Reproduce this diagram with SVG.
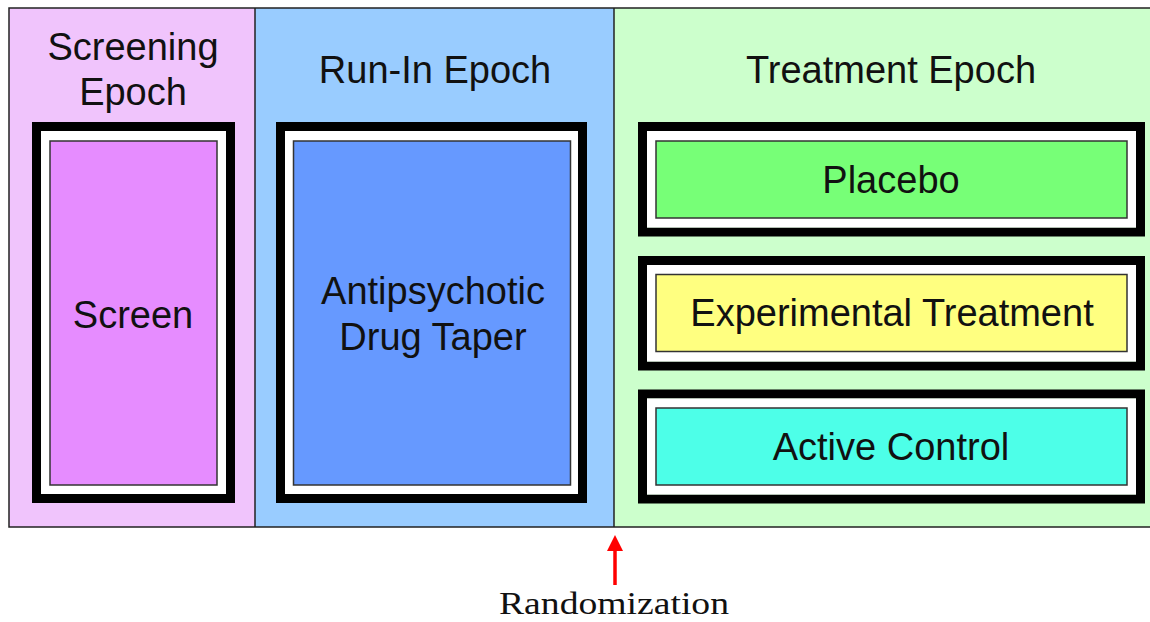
<svg xmlns="http://www.w3.org/2000/svg" width="1150" height="622" viewBox="0 0 1150 622">
  <defs>
    <style>
      .lbl { font-family: "Liberation Sans", Arial, sans-serif; font-size: 38px; fill: #111; text-anchor: middle; }
      .frame { fill: none; stroke: #000; stroke-width: 9; }
      .pad { fill: #fff; }
      .box { stroke: #333; stroke-width: 1.5; }
      .div { stroke: #222; stroke-width: 1.5; }
    </style>
    <marker id="arr" markerWidth="16" markerHeight="16" refX="0" refY="8" orient="auto" markerUnits="userSpaceOnUse">
      <path d="M0,0 L16,8 L0,16 z" fill="#ff0000"/>
    </marker>
  </defs>
  <rect width="1150" height="622" fill="#fff"/>

  <g id="epochs">
    <rect x="9" y="8" width="246" height="519" fill="#f0c4fc"/>
    <rect x="255" y="8" width="359" height="519" fill="#99ccff"/>
    <rect x="614" y="8" width="540" height="519" fill="#ccffcc"/>
    <rect x="9" y="8" width="1145" height="519" fill="none" class="div"/>
    <line x1="255" y1="8" x2="255" y2="527" class="div"/>
    <line x1="614" y1="8" x2="614" y2="527" class="div"/>
    <text class="lbl" x="133" y="60">Screening</text>
    <text class="lbl" x="133" y="105">Epoch</text>
    <text class="lbl" x="435" y="83">Run-In Epoch</text>
    <text class="lbl" x="891" y="83">Treatment Epoch</text>
  </g>

  <g id="screen">
    <rect x="36.5" y="126.5" width="194" height="372" class="frame"/>
    <rect x="41" y="131" width="185" height="363" class="pad"/>
    <rect x="50" y="141" width="167" height="344" fill="#e68cff" class="box"/>
    <text class="lbl" x="133" y="328">Screen</text>
  </g>

  <g id="runin">
    <rect x="280.5" y="126.5" width="302" height="372" class="frame"/>
    <rect x="285" y="131" width="293" height="363" class="pad"/>
    <rect x="293.5" y="141" width="277" height="344" fill="#6699ff" class="box"/>
    <text class="lbl" x="433" y="304">Antipsychotic</text>
    <text class="lbl" x="433" y="350">Drug Taper</text>
  </g>

  <g id="placebo">
    <rect x="642.5" y="126.5" width="498" height="105.5" class="frame"/>
    <rect x="647" y="131" width="489" height="96.5" class="pad"/>
    <rect x="656" y="141" width="471" height="77" fill="#77ff77" class="box"/>
    <text class="lbl" x="891" y="193">Placebo</text>
  </g>

  <g id="experimental">
    <rect x="642.5" y="260.5" width="498" height="105.5" class="frame"/>
    <rect x="647" y="265" width="489" height="96.5" class="pad"/>
    <rect x="656" y="274.5" width="471" height="77" fill="#ffff80" class="box"/>
    <text class="lbl" x="892" y="326">Experimental Treatment</text>
  </g>

  <g id="active">
    <rect x="642.5" y="394" width="498" height="105" class="frame"/>
    <rect x="647" y="398.5" width="489" height="96" class="pad"/>
    <rect x="656" y="408" width="471" height="77" fill="#4dffe8" class="box"/>
    <text class="lbl" x="891" y="460">Active Control</text>
  </g>

  <g id="connectors">
    <line x1="615" y1="585" x2="615" y2="551" stroke="#ff0000" stroke-width="3.5" marker-end="url(#arr)"/>
  </g>

  <g id="randomization">
    <text x="614" y="614" font-family="Liberation Serif, 'Times New Roman', serif" font-size="32" fill="#111" text-anchor="middle" textLength="230" lengthAdjust="spacingAndGlyphs">Randomization</text>
  </g>
</svg>
